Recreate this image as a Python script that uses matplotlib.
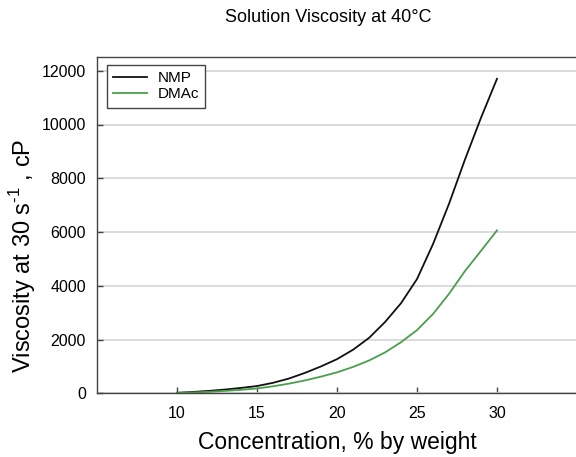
import numpy as np
import matplotlib.pyplot as plt

plt.rcParams['font.family'] = ['Liberation Sans', 'DejaVu Sans']
plt.rcParams['mathtext.fontset'] = 'custom'
plt.rcParams['mathtext.rm'] = 'Liberation Sans'

# concentration, % by weight
conc = [10, 11, 12, 13, 14, 15, 16, 17, 18, 19, 20,
        21, 22, 23, 24, 25, 26, 27, 28, 29, 30]
# viscosity at 30 1/s, cP
nmp = [20, 50, 90, 140, 200, 270, 390, 550, 760, 1000, 1270,
       1620, 2060, 2650, 3350, 4250, 5550, 7050, 8700, 10250, 11700]
dmac = [10, 30, 55, 90, 130, 180, 260, 360, 480, 620, 780,
        980, 1220, 1520, 1900, 2350, 2950, 3700, 4550, 5300, 6060]

xticks = [10, 15, 20, 25, 30]
yticks = [0, 2000, 4000, 6000, 8000, 10000, 12000]

fig = plt.figure(figsize=(5.76, 4.57), dpi=100)
ax = fig.add_axes([97/576, 1 - 393.3/457, 480/576, 336/457])

ax.plot(conc, nmp, color='#111111', lw=1.3, label='NMP')
ax.plot(conc, dmac, color='#4a9e4a', lw=1.3, label='DMAc')

ax.set_xlim(5, 35)
ax.set_ylim(0, 12500)
ax.set_xticks(xticks)
ax.set_yticks(yticks)
ax.yaxis.grid(True, color='#d4d4d4', lw=1.2)
ax.set_axisbelow(True)
ax.tick_params(direction='in', length=4, width=1, colors='#444444',
               labelcolor='black', labelsize=11.5)
ax.tick_params(axis='x', pad=9)
ax.tick_params(axis='y', pad=8)
ax.spines['right'].set_visible(False)
for s in ['left', 'bottom', 'top']:
    ax.spines[s].set_color('#444444')
    ax.spines[s].set_linewidth(1)

ax.set_xlabel('Concentration, % by weight', fontsize=16.5, labelpad=7)
ax.set_ylabel(r'Viscosity at 30 s$^{\text{-1}}$ , cP', fontsize=17)
ax.yaxis.set_label_coords(-0.122, 0.41)
fig.text(328/576, 1 - 18/457, 'Solution Viscosity at 40°C', fontsize=13,
         ha='center', va='center')

leg = ax.legend(loc='upper left', bbox_to_anchor=(0.021, 0.977),
                borderaxespad=0, fancybox=False, framealpha=1,
                fontsize=11, handlelength=2.2, handletextpad=0.7,
                labelspacing=0.15, borderpad=0.4)
leg.get_frame().set_edgecolor('#444444')
leg.get_frame().set_linewidth(1)

fig.savefig('out.png', dpi=100)
